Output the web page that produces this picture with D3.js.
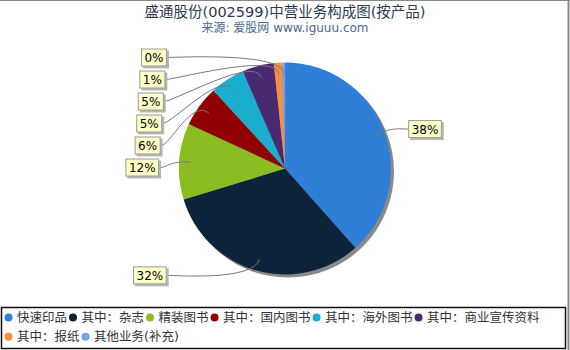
<!DOCTYPE html>
<html>
<head>
<meta charset="utf-8">
<script src="https://cdn.jsdelivr.net/npm/d3@7"></script>
<style>
  html, body { margin: 0; padding: 0; background: #fff; }
  svg { display: block; }
  text { font-family: "DejaVu Sans", "Noto Sans CJK SC", sans-serif; }
</style>
</head>
<body>
<div id="chart"></div>
<script>
// ---- data ----
const titleText = "盛通股份(002599)中营业务构成图(按产品)";
const subtitleText = "来源: 爱股网 www.iguuu.com";
const categories = ["快速印品", "其中：杂志", "精装图书", "其中：国内图书", "其中：海外图书", "其中：商业宣传资料", "其中：报纸", "其他业务(补充)"];
const values = [38.4, 31.8, 11.6, 6.3, 5.3, 4.8, 1.3, 0.4];
const colors = ["#2f7ed8", "#0d233a", "#8bbc21", "#910000", "#1aadce", "#492970", "#f28f43", "#77a1e5"];

// ---- layout ----
const W = 570, H = 350;
const cx = 285, cy = 168.5, R = 106;

const svg = d3.select("#chart").append("svg").attr("width", W).attr("height", H);

// frame lines
svg.append("line").attr("x1", 0).attr("x2", W).attr("y1", 0.5).attr("y2", 0.5).attr("stroke", "#888").attr("stroke-width", 1);
svg.append("line").attr("x1", W - 1.5).attr("x2", W - 1.5).attr("y1", 0).attr("y2", H).attr("stroke", "#888").attr("stroke-width", 2);

// titles
svg.append("text").attr("x", W / 2).attr("y", 17).attr("text-anchor", "middle")
  .attr("font-size", "14.5px").attr("fill", "#2a3a50").text(titleText);
svg.append("text").attr("x", W / 2).attr("y", 32).attr("text-anchor", "middle")
  .attr("font-size", "12px").attr("fill", "#4a6a90").text(subtitleText);

const total = d3.sum(values);
const pie = d3.pie().sort(null).value(d => d)(values);
const arc = d3.arc().innerRadius(0).outerRadius(R);

// pie shadow
svg.append("circle").attr("cx", cx + 3).attr("cy", cy + 3).attr("r", R).attr("fill", "#8a8a8a");

const g = svg.append("g").attr("transform", `translate(${cx},${cy})`);
g.selectAll("path.slice").data(pie).join("path")
  .attr("class", "slice")
  .attr("d", arc)
  .attr("fill", (d, i) => colors[i]);

// ---- labels ----
const labelR = 111, linkR = 117, anchorR = 0.89 * R, gapY = 22, boxH = 18;
const labels = pie.map((d, i) => {
  const a = (d.startAngle + d.endAngle) / 2;
  return {
    i, a,
    side: Math.sin(a) > 0 ? "right" : "left",
    ny: cy - labelR * Math.cos(a),
    text: Math.round(values[i] / total * 100) + "%"
  };
});
["left", "right"].forEach(side => {
  const arr = labels.filter(l => l.side === side).sort((a, b) => a.ny - b.ny);
  let prev = -Infinity;
  arr.forEach(l => { l.y = Math.max(l.ny, prev + gapY); prev = l.y; });
});

const lg = svg.append("g");
labels.forEach(l => {
  const dy = Math.abs(l.y - cy);
  const off = 126 - 0.072 * dy;
  const t = lg.append("text").attr("font-size", "12px").attr("fill", "#000")
    .attr("dominant-baseline", "central").text(l.text);
  const tw = t.node().getComputedTextLength();
  const bw = tw + 7;
  const bx = l.side === "right" ? cx + off : cx - off - bw;
  const edgeX = l.side === "right" ? bx : bx + bw;
  const dir = l.side === "right" ? 1 : -1;
  // leader
  const ex = cx + linkR * Math.sin(l.a), ey = cy - linkR * Math.cos(l.a);
  const ax = cx + anchorR * Math.sin(l.a), ay = cy - anchorR * Math.cos(l.a);
  const p = d3.path();
  p.moveTo(edgeX, l.y);
  p.bezierCurveTo(edgeX - dir * 10, l.y, ex, ey, ax, ay);
  lg.insert("path", "text").attr("d", p.toString()).attr("fill", "none")
    .attr("stroke", "#777").attr("stroke-width", 1);
  lg.insert("rect", "text").attr("x", bx + 2).attr("y", l.y - boxH / 2 + 2)
    .attr("width", bw).attr("height", boxH).attr("fill", "#b8b8b8");
  lg.insert("rect", "text").attr("x", bx + 0.5).attr("y", l.y - boxH / 2 + 0.5)
    .attr("width", bw - 1).attr("height", boxH - 1).attr("fill", "#ffffc8")
    .attr("stroke", "#999").attr("stroke-width", 1);
  t.attr("x", bx + 3.5).attr("y", l.y + 0.5);
  t.raise();
});

// ---- legend ----
const legX = 1.5, legY = 307.5, legW = 564, legH = 41;
svg.append("rect").attr("x", legX).attr("y", legY).attr("width", legW).attr("height", legH)
  .attr("fill", "#fff").attr("stroke", "#111").attr("stroke-width", 1.5);
const rows = [317.5, 336.8];
let lx = 8.5, row = 0;
const legG = svg.append("g");
categories.forEach((c, i) => {
  const t = legG.append("text").attr("font-size", "12.5px").attr("fill", "#333").text(c);
  const tw = t.node().getComputedTextLength();
  if (lx + 8.5 + tw > legX + legW - 4) { row += 1; lx = 8.5; }
  legG.append("circle").attr("cx", lx).attr("cy", rows[row]).attr("r", 4).attr("fill", colors[i]);
  t.attr("x", lx + 8.5).attr("y", rows[row] + 4.6);
  lx = lx + 8.5 + tw + 6;
});
</script>
</body>
</html>
